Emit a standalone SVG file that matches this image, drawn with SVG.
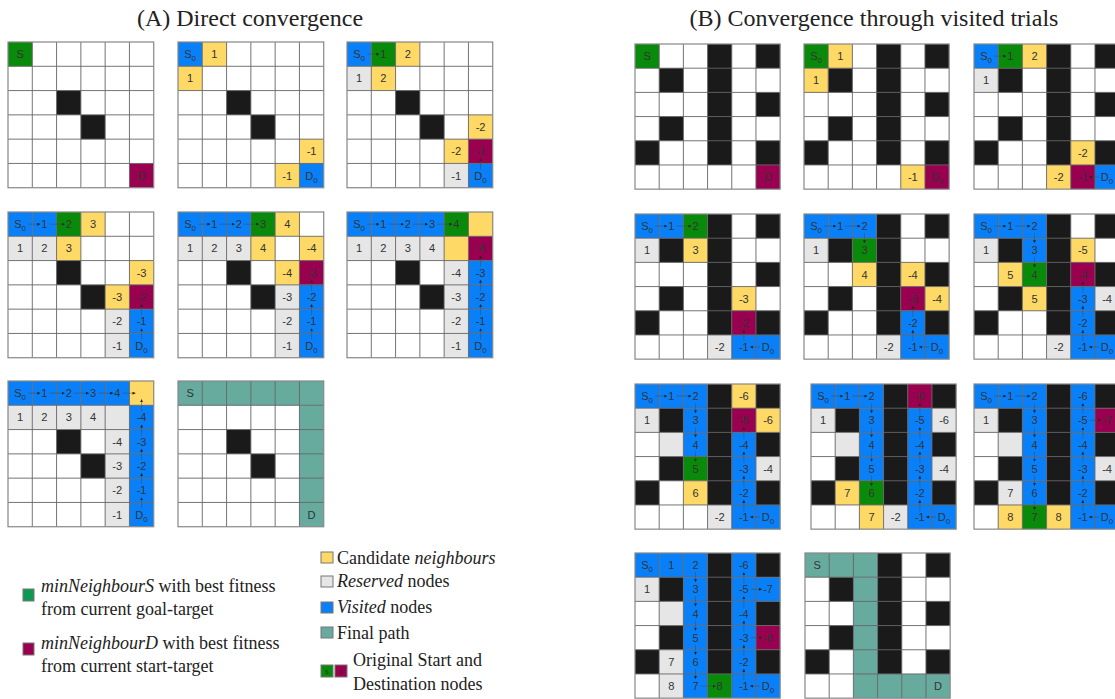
<svg xmlns="http://www.w3.org/2000/svg" width="1115" height="699" viewBox="0 0 1115 699">
<style>
.k{fill:#1a1a1a}.gr{fill:#0a8a0a}.p{fill:#990050}.b{fill:#0a80f8}.y{fill:#ffd966}.l{fill:#e6e6e6}.f{fill:#67ab9f}
.t{font-family:"Liberation Sans",Arial,sans-serif;font-size:11px;fill:#333;text-anchor:middle}
.s{font-size:8px}
.c line{stroke:#444;stroke-width:0.45;marker-end:url(#ah)}
.ttl{font-family:"Liberation Serif","Times New Roman",serif;font-size:24px;fill:#222;text-anchor:middle}
.lg{font-family:"Liberation Serif","Times New Roman",serif;font-size:18px;fill:#222}
.sq{stroke:#777;stroke-width:1}
</style>
<defs>
<rect id="c" width="24" height="24"/>
<marker id="ah" viewBox="0 0 4 4" refX="4" refY="2" markerWidth="3" markerHeight="3" markerUnits="userSpaceOnUse" orient="auto"><path d="M0,0L4,2L0,4Z" fill="#222"/></marker>
<g id="grid"><path d="M24 0V144M48 0V144M72 0V144M96 0V144M120 0V144M0 24H144M0 48H144M0 72H144M0 96H144M0 120H144" stroke="#666" stroke-width="0.9" fill="none"/><rect width="144" height="144" fill="none" stroke="#888" stroke-width="1.2"/></g>
<g id="mA" class="k"><use href="#c" x="48" y="48"/><use href="#c" x="72" y="72"/></g>
<g id="mB" class="k"><rect x="72" y="0" width="24" height="120"/><use href="#c" x="120" y="0"/><use href="#c" x="24" y="24"/><use href="#c" x="120" y="48"/><use href="#c" x="24" y="72"/><use href="#c" x="0" y="96"/><use href="#c" x="120" y="96"/></g>
</defs>
<rect width="1115" height="699" fill="#fff"/>
<text class="ttl" x="250" y="26">(A) Direct convergence</text>
<text class="ttl" x="874" y="26">(B) Convergence through visited trials</text>

<!-- Part A -->
<g id="a1" transform="translate(8,42) scale(1.012)">
<rect width="144" height="144" fill="#fff"/><use href="#mA"/>
<use href="#c" class="gr" x="0" y="0"/><use href="#c" class="p" x="120" y="120"/>
<use href="#grid"/>
<text class="t" x="12" y="16">S</text><text class="t" x="132" y="136">D</text>
</g>
<g id="a2" transform="translate(178,42) scale(1.012)">
<rect width="144" height="144" fill="#fff"/><use href="#mA"/>
<use href="#c" class="b" x="0" y="0"/><use href="#c" class="y" x="24" y="0"/><use href="#c" class="y" x="0" y="24"/><use href="#c" class="y" x="120" y="96"/><use href="#c" class="y" x="96" y="120"/><use href="#c" class="b" x="120" y="120"/>
<use href="#grid"/>
<text class="t" x="12" y="16">S<tspan class="s" dy="3">0</tspan></text><text class="t" x="36" y="16">1</text><text class="t" x="12" y="40">1</text><text class="t" x="132" y="112">-1</text><text class="t" x="108" y="136">-1</text><text class="t" x="132" y="136">D<tspan class="s" dy="3">0</tspan></text>
</g>
<g id="a3" transform="translate(347,42) scale(1.012)">
<rect width="144" height="144" fill="#fff"/><use href="#mA"/>
<use href="#c" class="b" x="0" y="0"/><use href="#c" class="gr" x="24" y="0"/><use href="#c" class="y" x="48" y="0"/><use href="#c" class="l" x="0" y="24"/><use href="#c" class="y" x="24" y="24"/><use href="#c" class="y" x="120" y="72"/><use href="#c" class="y" x="96" y="96"/><use href="#c" class="p" x="120" y="96"/><use href="#c" class="l" x="96" y="120"/><use href="#c" class="b" x="120" y="120"/>
<use href="#grid"/>
<text class="t" x="12" y="16">S<tspan class="s" dy="3">0</tspan></text><text class="t" x="36" y="16">1</text><text class="t" x="60" y="16">2</text><text class="t" x="12" y="40">1</text><text class="t" x="36" y="40">2</text><text class="t" x="132" y="88">-2</text><text class="t" x="108" y="112">-2</text><text class="t" x="132" y="112">-1</text><text class="t" x="108" y="136">-1</text><text class="t" x="132" y="136">D<tspan class="s" dy="3">0</tspan></text>
</g>
<g id="a4" transform="translate(8,212) scale(1.012)">
<rect width="144" height="144" fill="#fff"/><use href="#mA"/>
<use href="#c" class="b" x="0" y="0"/><use href="#c" class="b" x="24" y="0"/><use href="#c" class="gr" x="48" y="0"/><use href="#c" class="y" x="72" y="0"/><use href="#c" class="l" x="0" y="24"/><use href="#c" class="l" x="24" y="24"/><use href="#c" class="y" x="48" y="24"/><use href="#c" class="y" x="120" y="48"/><use href="#c" class="y" x="96" y="72"/><use href="#c" class="p" x="120" y="72"/><use href="#c" class="l" x="96" y="96"/><use href="#c" class="b" x="120" y="96"/><use href="#c" class="l" x="96" y="120"/><use href="#c" class="b" x="120" y="120"/>
<use href="#grid"/>
<text class="t" x="12" y="16">S<tspan class="s" dy="3">0</tspan></text><text class="t" x="36" y="16">1</text><text class="t" x="60" y="16">2</text><text class="t" x="84" y="16">3</text><text class="t" x="12" y="40">1</text><text class="t" x="36" y="40">2</text><text class="t" x="60" y="40">3</text><text class="t" x="132" y="64">-3</text><text class="t" x="108" y="88">-3</text><text class="t" x="132" y="88">-2</text><text class="t" x="108" y="112">-2</text><text class="t" x="132" y="112">-1</text><text class="t" x="108" y="136">-1</text><text class="t" x="132" y="136">D<tspan class="s" dy="3">0</tspan></text>
</g>
<g id="a5" transform="translate(178,212) scale(1.012)">
<rect width="144" height="144" fill="#fff"/><use href="#mA"/>
<use href="#c" class="b" x="0" y="0"/><use href="#c" class="b" x="24" y="0"/><use href="#c" class="b" x="48" y="0"/><use href="#c" class="gr" x="72" y="0"/><use href="#c" class="y" x="96" y="0"/><use href="#c" class="l" x="0" y="24"/><use href="#c" class="l" x="24" y="24"/><use href="#c" class="l" x="48" y="24"/><use href="#c" class="y" x="72" y="24"/><use href="#c" class="y" x="120" y="24"/><use href="#c" class="y" x="96" y="48"/><use href="#c" class="p" x="120" y="48"/><use href="#c" class="l" x="96" y="72"/><use href="#c" class="b" x="120" y="72"/><use href="#c" class="l" x="96" y="96"/><use href="#c" class="b" x="120" y="96"/><use href="#c" class="l" x="96" y="120"/><use href="#c" class="b" x="120" y="120"/>
<use href="#grid"/>
<text class="t" x="12" y="16">S<tspan class="s" dy="3">0</tspan></text><text class="t" x="36" y="16">1</text><text class="t" x="60" y="16">2</text><text class="t" x="84" y="16">3</text><text class="t" x="108" y="16">4</text><text class="t" x="12" y="40">1</text><text class="t" x="36" y="40">2</text><text class="t" x="60" y="40">3</text><text class="t" x="84" y="40">4</text><text class="t" x="132" y="40">-4</text><text class="t" x="108" y="64">-4</text><text class="t" x="132" y="64">-3</text><text class="t" x="108" y="88">-3</text><text class="t" x="132" y="88">-2</text><text class="t" x="108" y="112">-2</text><text class="t" x="132" y="112">-1</text><text class="t" x="108" y="136">-1</text><text class="t" x="132" y="136">D<tspan class="s" dy="3">0</tspan></text>
</g>
<g id="a6" transform="translate(347,212) scale(1.012)">
<rect width="144" height="144" fill="#fff"/><use href="#mA"/>
<use href="#c" class="b" x="0" y="0"/><use href="#c" class="b" x="24" y="0"/><use href="#c" class="b" x="48" y="0"/><use href="#c" class="b" x="72" y="0"/><use href="#c" class="gr" x="96" y="0"/><use href="#c" class="y" x="120" y="0"/><use href="#c" class="l" x="0" y="24"/><use href="#c" class="l" x="24" y="24"/><use href="#c" class="l" x="48" y="24"/><use href="#c" class="l" x="72" y="24"/><use href="#c" class="y" x="96" y="24"/><use href="#c" class="p" x="120" y="24"/><use href="#c" class="l" x="96" y="48"/><use href="#c" class="b" x="120" y="48"/><use href="#c" class="l" x="96" y="72"/><use href="#c" class="b" x="120" y="72"/><use href="#c" class="l" x="96" y="96"/><use href="#c" class="b" x="120" y="96"/><use href="#c" class="l" x="96" y="120"/><use href="#c" class="b" x="120" y="120"/>
<use href="#grid"/>
<text class="t" x="12" y="16">S<tspan class="s" dy="3">0</tspan></text><text class="t" x="36" y="16">1</text><text class="t" x="60" y="16">2</text><text class="t" x="84" y="16">3</text><text class="t" x="108" y="16">4</text><text class="t" x="12" y="40">1</text><text class="t" x="36" y="40">2</text><text class="t" x="60" y="40">3</text><text class="t" x="84" y="40">4</text><text class="t" x="132" y="40">-4</text><text class="t" x="108" y="64">-4</text><text class="t" x="132" y="64">-3</text><text class="t" x="108" y="88">-3</text><text class="t" x="132" y="88">-2</text><text class="t" x="108" y="112">-2</text><text class="t" x="132" y="112">-1</text><text class="t" x="108" y="136">-1</text><text class="t" x="132" y="136">D<tspan class="s" dy="3">0</tspan></text>
</g>
<g id="a7" transform="translate(8,381) scale(1.012)">
<rect width="144" height="144" fill="#fff"/><use href="#mA"/>
<use href="#c" class="b" x="0" y="0"/><use href="#c" class="b" x="24" y="0"/><use href="#c" class="b" x="48" y="0"/><use href="#c" class="b" x="72" y="0"/><use href="#c" class="b" x="96" y="0"/><use href="#c" class="y" x="120" y="0"/><use href="#c" class="l" x="0" y="24"/><use href="#c" class="l" x="24" y="24"/><use href="#c" class="l" x="48" y="24"/><use href="#c" class="l" x="72" y="24"/><use href="#c" class="l" x="96" y="24"/><use href="#c" class="b" x="120" y="24"/><use href="#c" class="l" x="96" y="48"/><use href="#c" class="b" x="120" y="48"/><use href="#c" class="l" x="96" y="72"/><use href="#c" class="b" x="120" y="72"/><use href="#c" class="l" x="96" y="96"/><use href="#c" class="b" x="120" y="96"/><use href="#c" class="l" x="96" y="120"/><use href="#c" class="b" x="120" y="120"/>
<use href="#grid"/>
<text class="t" x="12" y="16">S<tspan class="s" dy="3">0</tspan></text><text class="t" x="36" y="16">1</text><text class="t" x="60" y="16">2</text><text class="t" x="84" y="16">3</text><text class="t" x="108" y="16">4</text><text class="t" x="12" y="40">1</text><text class="t" x="36" y="40">2</text><text class="t" x="60" y="40">3</text><text class="t" x="84" y="40">4</text><text class="t" x="132" y="40">-4</text><text class="t" x="108" y="64">-4</text><text class="t" x="132" y="64">-3</text><text class="t" x="108" y="88">-3</text><text class="t" x="132" y="88">-2</text><text class="t" x="108" y="112">-2</text><text class="t" x="132" y="112">-1</text><text class="t" x="108" y="136">-1</text><text class="t" x="132" y="136">D<tspan class="s" dy="3">0</tspan></text>
</g>
<g id="a8" transform="translate(178,381) scale(1.012)">
<rect width="144" height="144" fill="#fff"/><use href="#mA"/>
<rect class="f" x="0" y="0" width="144" height="24"/><rect class="f" x="120" y="24" width="24" height="120"/>
<use href="#grid"/>
<text class="t" x="12" y="16">S</text><text class="t" x="132" y="136">D</text>
</g>

<!-- Part B -->
<g id="b1" transform="translate(635,44) scale(1.008)">
<rect width="144" height="144" fill="#fff"/><use href="#mB"/>
<use href="#c" class="gr" x="0" y="0"/><use href="#c" class="p" x="120" y="120"/>
<use href="#grid"/>
<text class="t" x="12" y="16">S</text><text class="t" x="132" y="136">D</text>
</g>
<g id="b2" transform="translate(804,44) scale(1.008)">
<rect width="144" height="144" fill="#fff"/><use href="#mB"/>
<use href="#c" class="gr" x="0" y="0"/><use href="#c" class="y" x="24" y="0"/><use href="#c" class="y" x="0" y="24"/><use href="#c" class="y" x="96" y="120"/><use href="#c" class="p" x="120" y="120"/>
<use href="#grid"/>
<text class="t" x="12" y="16">S<tspan class="s" dy="3">0</tspan></text><text class="t" x="36" y="16">1</text><text class="t" x="12" y="40">1</text><text class="t" x="108" y="136">-1</text><text class="t" x="132" y="136">D<tspan class="s" dy="3">0</tspan></text>
</g>
<g id="b3" transform="translate(974,44) scale(1.008)">
<rect width="144" height="144" fill="#fff"/><use href="#mB"/>
<use href="#c" class="b" x="0" y="0"/><use href="#c" class="gr" x="24" y="0"/><use href="#c" class="y" x="48" y="0"/><use href="#c" class="l" x="0" y="24"/><use href="#c" class="y" x="96" y="96"/><use href="#c" class="y" x="72" y="120"/><use href="#c" class="p" x="96" y="120"/><use href="#c" class="b" x="120" y="120"/>
<use href="#grid"/>
<text class="t" x="12" y="16">S<tspan class="s" dy="3">0</tspan></text><text class="t" x="36" y="16">1</text><text class="t" x="60" y="16">2</text><text class="t" x="12" y="40">1</text><text class="t" x="108" y="112">-2</text><text class="t" x="84" y="136">-2</text><text class="t" x="108" y="136">-1</text><text class="t" x="132" y="136">D<tspan class="s" dy="3">0</tspan></text>
</g>
<g id="b4" transform="translate(635,214) scale(1.008)">
<rect width="144" height="144" fill="#fff"/><use href="#mB"/>
<use href="#c" class="b" x="0" y="0"/><use href="#c" class="b" x="24" y="0"/><use href="#c" class="gr" x="48" y="0"/><use href="#c" class="l" x="0" y="24"/><use href="#c" class="y" x="48" y="24"/><use href="#c" class="y" x="96" y="72"/><use href="#c" class="p" x="96" y="96"/><use href="#c" class="l" x="72" y="120"/><use href="#c" class="b" x="96" y="120"/><use href="#c" class="b" x="120" y="120"/>
<use href="#grid"/>
<text class="t" x="12" y="16">S<tspan class="s" dy="3">0</tspan></text><text class="t" x="36" y="16">1</text><text class="t" x="60" y="16">2</text><text class="t" x="12" y="40">1</text><text class="t" x="60" y="40">3</text><text class="t" x="108" y="88">-3</text><text class="t" x="108" y="112">-2</text><text class="t" x="84" y="136">-2</text><text class="t" x="108" y="136">-1</text><text class="t" x="132" y="136">D<tspan class="s" dy="3">0</tspan></text>
</g>
<g id="b5" transform="translate(804,214) scale(1.008)">
<rect width="144" height="144" fill="#fff"/><use href="#mB"/>
<use href="#c" class="b" x="0" y="0"/><use href="#c" class="b" x="24" y="0"/><use href="#c" class="b" x="48" y="0"/><use href="#c" class="l" x="0" y="24"/><use href="#c" class="gr" x="48" y="24"/><use href="#c" class="y" x="48" y="48"/><use href="#c" class="y" x="96" y="48"/><use href="#c" class="p" x="96" y="72"/><use href="#c" class="y" x="120" y="72"/><use href="#c" class="b" x="96" y="96"/><use href="#c" class="l" x="72" y="120"/><use href="#c" class="b" x="96" y="120"/><use href="#c" class="b" x="120" y="120"/>
<use href="#grid"/>
<text class="t" x="12" y="16">S<tspan class="s" dy="3">0</tspan></text><text class="t" x="36" y="16">1</text><text class="t" x="60" y="16">2</text><text class="t" x="12" y="40">1</text><text class="t" x="60" y="40">3</text><text class="t" x="60" y="64">4</text><text class="t" x="108" y="64">-4</text><text class="t" x="108" y="88">-3</text><text class="t" x="132" y="88">-4</text><text class="t" x="108" y="112">-2</text><text class="t" x="84" y="136">-2</text><text class="t" x="108" y="136">-1</text><text class="t" x="132" y="136">D<tspan class="s" dy="3">0</tspan></text>
</g>
<g id="b6" transform="translate(974,214) scale(1.008)">
<rect width="144" height="144" fill="#fff"/><use href="#mB"/>
<use href="#c" class="b" x="0" y="0"/><use href="#c" class="b" x="24" y="0"/><use href="#c" class="b" x="48" y="0"/><use href="#c" class="l" x="0" y="24"/><use href="#c" class="b" x="48" y="24"/><use href="#c" class="y" x="96" y="24"/><use href="#c" class="y" x="24" y="48"/><use href="#c" class="gr" x="48" y="48"/><use href="#c" class="p" x="96" y="48"/><use href="#c" class="y" x="48" y="72"/><use href="#c" class="b" x="96" y="72"/><use href="#c" class="l" x="120" y="72"/><use href="#c" class="b" x="96" y="96"/><use href="#c" class="l" x="72" y="120"/><use href="#c" class="b" x="96" y="120"/><use href="#c" class="b" x="120" y="120"/>
<use href="#grid"/>
<text class="t" x="12" y="16">S<tspan class="s" dy="3">0</tspan></text><text class="t" x="36" y="16">1</text><text class="t" x="60" y="16">2</text><text class="t" x="12" y="40">1</text><text class="t" x="60" y="40">3</text><text class="t" x="108" y="40">-5</text><text class="t" x="36" y="64">5</text><text class="t" x="60" y="64">4</text><text class="t" x="108" y="64">-4</text><text class="t" x="60" y="88">5</text><text class="t" x="108" y="88">-3</text><text class="t" x="132" y="88">-4</text><text class="t" x="108" y="112">-2</text><text class="t" x="84" y="136">-2</text><text class="t" x="108" y="136">-1</text><text class="t" x="132" y="136">D<tspan class="s" dy="3">0</tspan></text>
</g>
<g id="b7" transform="translate(635,384) scale(1.008)">
<rect width="144" height="144" fill="#fff"/><use href="#mB"/>
<use href="#c" class="b" x="0" y="0"/><use href="#c" class="b" x="24" y="0"/><use href="#c" class="b" x="48" y="0"/><use href="#c" class="y" x="96" y="0"/><use href="#c" class="l" x="0" y="24"/><use href="#c" class="b" x="48" y="24"/><use href="#c" class="p" x="96" y="24"/><use href="#c" class="y" x="120" y="24"/><use href="#c" class="l" x="24" y="48"/><use href="#c" class="b" x="48" y="48"/><use href="#c" class="b" x="96" y="48"/><use href="#c" class="gr" x="48" y="72"/><use href="#c" class="b" x="96" y="72"/><use href="#c" class="l" x="120" y="72"/><use href="#c" class="y" x="48" y="96"/><use href="#c" class="b" x="96" y="96"/><use href="#c" class="l" x="72" y="120"/><use href="#c" class="b" x="96" y="120"/><use href="#c" class="b" x="120" y="120"/>
<use href="#grid"/>
<text class="t" x="12" y="16">S<tspan class="s" dy="3">0</tspan></text><text class="t" x="36" y="16">1</text><text class="t" x="60" y="16">2</text><text class="t" x="108" y="16">-6</text><text class="t" x="12" y="40">1</text><text class="t" x="60" y="40">3</text><text class="t" x="108" y="40">-5</text><text class="t" x="132" y="40">-6</text><text class="t" x="60" y="64">4</text><text class="t" x="108" y="64">-4</text><text class="t" x="60" y="88">5</text><text class="t" x="108" y="88">-3</text><text class="t" x="132" y="88">-4</text><text class="t" x="60" y="112">6</text><text class="t" x="108" y="112">-2</text><text class="t" x="84" y="136">-2</text><text class="t" x="108" y="136">-1</text><text class="t" x="132" y="136">D<tspan class="s" dy="3">0</tspan></text>
</g>
<g id="b8" transform="translate(811,384) scale(1.008)">
<rect width="144" height="144" fill="#fff"/><use href="#mB"/>
<use href="#c" class="b" x="0" y="0"/><use href="#c" class="b" x="24" y="0"/><use href="#c" class="b" x="48" y="0"/><use href="#c" class="p" x="96" y="0"/><use href="#c" class="l" x="0" y="24"/><use href="#c" class="b" x="48" y="24"/><use href="#c" class="b" x="96" y="24"/><use href="#c" class="l" x="120" y="24"/><use href="#c" class="l" x="24" y="48"/><use href="#c" class="b" x="48" y="48"/><use href="#c" class="b" x="96" y="48"/><use href="#c" class="b" x="48" y="72"/><use href="#c" class="b" x="96" y="72"/><use href="#c" class="l" x="120" y="72"/><use href="#c" class="y" x="24" y="96"/><use href="#c" class="gr" x="48" y="96"/><use href="#c" class="b" x="96" y="96"/><use href="#c" class="y" x="48" y="120"/><use href="#c" class="l" x="72" y="120"/><use href="#c" class="b" x="96" y="120"/><use href="#c" class="b" x="120" y="120"/>
<use href="#grid"/>
<text class="t" x="12" y="16">S<tspan class="s" dy="3">0</tspan></text><text class="t" x="36" y="16">1</text><text class="t" x="60" y="16">2</text><text class="t" x="108" y="16">-6</text><text class="t" x="12" y="40">1</text><text class="t" x="60" y="40">3</text><text class="t" x="108" y="40">-5</text><text class="t" x="132" y="40">-6</text><text class="t" x="60" y="64">4</text><text class="t" x="108" y="64">-4</text><text class="t" x="60" y="88">5</text><text class="t" x="108" y="88">-3</text><text class="t" x="132" y="88">-4</text><text class="t" x="36" y="112">7</text><text class="t" x="60" y="112">6</text><text class="t" x="108" y="112">-2</text><text class="t" x="60" y="136">7</text><text class="t" x="84" y="136">-2</text><text class="t" x="108" y="136">-1</text><text class="t" x="132" y="136">D<tspan class="s" dy="3">0</tspan></text>
</g>
<g id="b9" transform="translate(974,384) scale(1.008)">
<rect width="144" height="144" fill="#fff"/><use href="#mB"/>
<use href="#c" class="b" x="0" y="0"/><use href="#c" class="b" x="24" y="0"/><use href="#c" class="b" x="48" y="0"/><use href="#c" class="b" x="96" y="0"/><use href="#c" class="l" x="0" y="24"/><use href="#c" class="b" x="48" y="24"/><use href="#c" class="b" x="96" y="24"/><use href="#c" class="p" x="120" y="24"/><use href="#c" class="l" x="24" y="48"/><use href="#c" class="b" x="48" y="48"/><use href="#c" class="b" x="96" y="48"/><use href="#c" class="b" x="48" y="72"/><use href="#c" class="b" x="96" y="72"/><use href="#c" class="l" x="120" y="72"/><use href="#c" class="l" x="24" y="96"/><use href="#c" class="b" x="48" y="96"/><use href="#c" class="b" x="96" y="96"/><use href="#c" class="y" x="24" y="120"/><use href="#c" class="gr" x="48" y="120"/><use href="#c" class="y" x="72" y="120"/><use href="#c" class="b" x="96" y="120"/><use href="#c" class="b" x="120" y="120"/>
<use href="#grid"/>
<text class="t" x="12" y="16">S<tspan class="s" dy="3">0</tspan></text><text class="t" x="36" y="16">1</text><text class="t" x="60" y="16">2</text><text class="t" x="108" y="16">-6</text><text class="t" x="12" y="40">1</text><text class="t" x="60" y="40">3</text><text class="t" x="108" y="40">-5</text><text class="t" x="132" y="40">-7</text><text class="t" x="60" y="64">4</text><text class="t" x="108" y="64">-4</text><text class="t" x="60" y="88">5</text><text class="t" x="108" y="88">-3</text><text class="t" x="132" y="88">-4</text><text class="t" x="36" y="112">7</text><text class="t" x="60" y="112">6</text><text class="t" x="108" y="112">-2</text><text class="t" x="36" y="136">8</text><text class="t" x="60" y="136">7</text><text class="t" x="84" y="136">8</text><text class="t" x="108" y="136">-1</text><text class="t" x="132" y="136">D<tspan class="s" dy="3">0</tspan></text>
</g>
<g id="b10" transform="translate(635,553) scale(1.008)">
<rect width="144" height="144" fill="#fff"/><use href="#mB"/>
<use href="#c" class="b" x="0" y="0"/><use href="#c" class="b" x="24" y="0"/><use href="#c" class="b" x="48" y="0"/><use href="#c" class="b" x="96" y="0"/><use href="#c" class="l" x="0" y="24"/><use href="#c" class="b" x="48" y="24"/><use href="#c" class="b" x="96" y="24"/><use href="#c" class="b" x="120" y="24"/><use href="#c" class="l" x="24" y="48"/><use href="#c" class="b" x="48" y="48"/><use href="#c" class="b" x="96" y="48"/><use href="#c" class="b" x="48" y="72"/><use href="#c" class="b" x="96" y="72"/><use href="#c" class="p" x="120" y="72"/><use href="#c" class="l" x="24" y="96"/><use href="#c" class="b" x="48" y="96"/><use href="#c" class="b" x="96" y="96"/><use href="#c" class="l" x="24" y="120"/><use href="#c" class="b" x="48" y="120"/><use href="#c" class="gr" x="72" y="120"/><use href="#c" class="b" x="96" y="120"/><use href="#c" class="b" x="120" y="120"/>
<use href="#grid"/>
<text class="t" x="12" y="16">S<tspan class="s" dy="3">0</tspan></text><text class="t" x="36" y="16">1</text><text class="t" x="60" y="16">2</text><text class="t" x="108" y="16">-6</text><text class="t" x="12" y="40">1</text><text class="t" x="60" y="40">3</text><text class="t" x="108" y="40">-5</text><text class="t" x="132" y="40">-7</text><text class="t" x="60" y="64">4</text><text class="t" x="108" y="64">-4</text><text class="t" x="60" y="88">5</text><text class="t" x="108" y="88">-3</text><text class="t" x="132" y="88">-8</text><text class="t" x="36" y="112">7</text><text class="t" x="60" y="112">6</text><text class="t" x="108" y="112">-2</text><text class="t" x="36" y="136">8</text><text class="t" x="60" y="136">7</text><text class="t" x="84" y="136">8</text><text class="t" x="108" y="136">-1</text><text class="t" x="132" y="136">D<tspan class="s" dy="3">0</tspan></text>
</g>
<g id="b11" transform="translate(805,553) scale(1.008)">
<rect width="144" height="144" fill="#fff"/><use href="#mB"/>
<rect class="f" x="0" y="0" width="72" height="24"/><rect class="f" x="48" y="24" width="24" height="120"/><rect class="f" x="72" y="120" width="72" height="24"/>
<use href="#grid"/>
<text class="t" x="12" y="16">S</text><text class="t" x="132" y="136">D</text>
</g>

<!-- Connectors (path arrows inside grids) -->
<g id="connectors" class="c">
<g transform="translate(347,42) scale(1.012)"><line x1="20" y1="12" x2="32" y2="12"/><line x1="132" y1="126" x2="132" y2="115"/></g>
<g transform="translate(8,212) scale(1.012)"><line x1="20" y1="12" x2="32" y2="12"/><line x1="41" y1="12" x2="56" y2="12"/><line x1="132" y1="126" x2="132" y2="115"/><line x1="132" y1="102" x2="132" y2="91"/></g>
<g transform="translate(178,212) scale(1.012)"><line x1="20" y1="12" x2="32" y2="12"/><line x1="41" y1="12" x2="56" y2="12"/><line x1="65" y1="12" x2="80" y2="12"/><line x1="132" y1="126" x2="132" y2="115"/><line x1="132" y1="102" x2="132" y2="91"/><line x1="132" y1="78" x2="132" y2="67"/></g>
<g transform="translate(347,212) scale(1.012)"><line x1="20" y1="12" x2="32" y2="12"/><line x1="41" y1="12" x2="56" y2="12"/><line x1="65" y1="12" x2="80" y2="12"/><line x1="89" y1="12" x2="104" y2="12"/><line x1="132" y1="126" x2="132" y2="115"/><line x1="132" y1="102" x2="132" y2="91"/><line x1="132" y1="78" x2="132" y2="67"/><line x1="132" y1="54" x2="132" y2="43"/></g>
<g transform="translate(8,381) scale(1.012)"><line x1="20" y1="12" x2="32" y2="12"/><line x1="41" y1="12" x2="56" y2="12"/><line x1="65" y1="12" x2="80" y2="12"/><line x1="89" y1="12" x2="104" y2="12"/><line x1="113" y1="12" x2="126" y2="12"/><line x1="132" y1="126" x2="132" y2="115"/><line x1="132" y1="102" x2="132" y2="91"/><line x1="132" y1="78" x2="132" y2="67"/><line x1="132" y1="54" x2="132" y2="43"/><line x1="132" y1="30" x2="132" y2="18"/></g>
<g transform="translate(974,44) scale(1.008)"><line x1="20" y1="12" x2="32" y2="12"/><line x1="124" y1="132" x2="114" y2="132"/></g>
<g transform="translate(635,214) scale(1.008)"><line x1="20" y1="12" x2="32" y2="12"/><line x1="41" y1="12" x2="56" y2="12"/><line x1="124" y1="132" x2="114" y2="132"/><line x1="108" y1="126" x2="108" y2="115"/></g>
<g transform="translate(804,214) scale(1.008)"><line x1="20" y1="12" x2="32" y2="12"/><line x1="41" y1="12" x2="56" y2="12"/><line x1="60" y1="19" x2="60" y2="29"/><line x1="124" y1="132" x2="114" y2="132"/><line x1="108" y1="126" x2="108" y2="115"/><line x1="108" y1="102" x2="108" y2="91"/></g>
<g transform="translate(974,214) scale(1.008)"><line x1="20" y1="12" x2="32" y2="12"/><line x1="41" y1="12" x2="56" y2="12"/><line x1="60" y1="19" x2="60" y2="29"/><line x1="60" y1="43" x2="60" y2="53"/><line x1="124" y1="132" x2="114" y2="132"/><line x1="108" y1="126" x2="108" y2="115"/><line x1="108" y1="102" x2="108" y2="91"/><line x1="108" y1="78" x2="108" y2="67"/></g>
<g transform="translate(635,384) scale(1.008)"><line x1="20" y1="12" x2="32" y2="12"/><line x1="41" y1="12" x2="56" y2="12"/><line x1="60" y1="19" x2="60" y2="29"/><line x1="60" y1="43" x2="60" y2="53"/><line x1="60" y1="67" x2="60" y2="77"/><line x1="124" y1="132" x2="114" y2="132"/><line x1="108" y1="126" x2="108" y2="115"/><line x1="108" y1="102" x2="108" y2="91"/><line x1="108" y1="78" x2="108" y2="67"/><line x1="108" y1="54" x2="108" y2="43"/></g>
<g transform="translate(811,384) scale(1.008)"><line x1="20" y1="12" x2="32" y2="12"/><line x1="41" y1="12" x2="56" y2="12"/><line x1="60" y1="19" x2="60" y2="29"/><line x1="60" y1="43" x2="60" y2="53"/><line x1="60" y1="67" x2="60" y2="77"/><line x1="60" y1="91" x2="60" y2="101"/><line x1="124" y1="132" x2="114" y2="132"/><line x1="108" y1="126" x2="108" y2="115"/><line x1="108" y1="102" x2="108" y2="91"/><line x1="108" y1="78" x2="108" y2="67"/><line x1="108" y1="54" x2="108" y2="43"/><line x1="108" y1="30" x2="108" y2="19"/></g>
<g transform="translate(974,384) scale(1.008)"><line x1="20" y1="12" x2="32" y2="12"/><line x1="41" y1="12" x2="56" y2="12"/><line x1="60" y1="19" x2="60" y2="29"/><line x1="60" y1="43" x2="60" y2="53"/><line x1="60" y1="67" x2="60" y2="77"/><line x1="60" y1="91" x2="60" y2="101"/><line x1="60" y1="115" x2="60" y2="125"/><line x1="124" y1="132" x2="114" y2="132"/><line x1="108" y1="126" x2="108" y2="115"/><line x1="108" y1="102" x2="108" y2="91"/><line x1="108" y1="78" x2="108" y2="67"/><line x1="108" y1="54" x2="108" y2="43"/><line x1="108" y1="30" x2="108" y2="19"/><line x1="115" y1="36" x2="126" y2="36"/></g>
<g transform="translate(635,553) scale(1.008)"><line x1="60" y1="19" x2="60" y2="29"/><line x1="60" y1="43" x2="60" y2="53"/><line x1="60" y1="67" x2="60" y2="77"/><line x1="60" y1="91" x2="60" y2="101"/><line x1="60" y1="115" x2="60" y2="125"/><line x1="65" y1="132" x2="80" y2="132"/><line x1="124" y1="132" x2="114" y2="132"/><line x1="108" y1="126" x2="108" y2="115"/><line x1="108" y1="102" x2="108" y2="91"/><line x1="108" y1="78" x2="108" y2="67"/><line x1="108" y1="54" x2="108" y2="43"/><line x1="108" y1="30" x2="108" y2="19"/><line x1="115" y1="36" x2="126" y2="36"/><line x1="115" y1="84" x2="126" y2="84"/></g>
</g>

<!-- Legend -->
<g id="legend-left">
<rect class="sq" x="23" y="589" width="11" height="12" fill="#0c9a50"/>
<text class="lg" x="41" y="592"><tspan font-style="italic">minNeighbourS</tspan> with best fitness</text>
<text class="lg" x="41" y="615">from current goal-target</text>
<rect class="sq" x="23" y="643" width="11" height="12" fill="#990050"/>
<text class="lg" x="41" y="649"><tspan font-style="italic">minNeighbourD</tspan> with best fitness</text>
<text class="lg" x="41" y="672">from current start-target</text>
</g>
<g id="legend-right">
<rect class="sq" x="321" y="552" width="12" height="11" fill="#ffd966"/>
<text class="lg" x="337" y="564">Candidate <tspan font-style="italic">neighbours</tspan></text>
<rect class="sq" x="321" y="576" width="12" height="11" fill="#e6e6e6"/>
<text class="lg" x="337" y="587"><tspan font-style="italic">Reserved</tspan> nodes</text>
<rect class="sq" x="321" y="602" width="12" height="11" fill="#0a80f8"/>
<text class="lg" x="337" y="613"><tspan font-style="italic">Visited</tspan> nodes</text>
<rect class="sq" x="321" y="627" width="12" height="11" fill="#67ab9f"/>
<text class="lg" x="337" y="639">Final path</text>
<rect class="sq" x="321" y="665" width="12" height="12" fill="#0a8a0a"/>
<rect class="sq" x="335" y="665" width="12" height="12" fill="#990050"/>
<text x="327" y="673.5" font-family="Liberation Sans, Arial, sans-serif" font-size="5" fill="#222" text-anchor="middle">S</text>
<text x="341" y="673.5" font-family="Liberation Sans, Arial, sans-serif" font-size="5" fill="#222" text-anchor="middle">D</text>
<text class="lg" x="353" y="666">Original Start and</text>
<text class="lg" x="353" y="690">Destination nodes</text>
</g>
</svg>
